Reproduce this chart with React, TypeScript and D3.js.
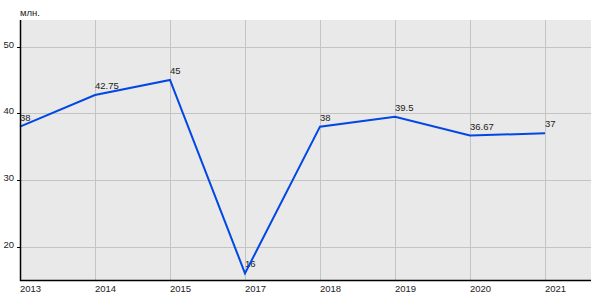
import React from "react";
import * as d3 from "d3";

const years = ["2013", "2014", "2015", "2017", "2018", "2019", "2020", "2021"];
const values = [38, 42.75, 45, 16, 38, 39.5, 36.67, 37];
const valueLabels = ["38", "42.75", "45", "16", "38", "39.5", "36.67", "37"];
const yTicks = [20, 30, 40, 50];
const unitLabel = "млн.";

export default function App() {
  const W = 600, H = 300;
  const left = 20, right = 591, top = 20, bottom = 280;
  const x = d3.scalePoint<string>().domain(years).range([left, 545]);
  const y = d3.scaleLinear().domain([15, 54]).range([bottom, top]);
  const line = d3
    .line<number>()
    .x((_, i) => x(years[i]) as number)
    .y((d) => y(d));
  const font = "Liberation Sans, Arial, sans-serif";
  const fs = 9.5;
  return (
    <svg
      width={W}
      height={H}
      style={{ position: "absolute", left: 0, top: 0, display: "block" }}
      fontFamily={font}
      fontSize={fs}
    >
      <rect x={0} y={0} width={W} height={H} fill="#ffffff" />
      <rect x={left} y={top} width={right - left} height={bottom - top} fill="#e9e9e9" />
      {yTicks.map((t) => (
        <line key={"gy" + t} x1={left} x2={right} y1={Math.round(y(t)) + 0.5} y2={Math.round(y(t)) + 0.5} stroke="#c4c4c4" strokeWidth={1} />
      ))}
      {years.map((yr) => (
        <line key={"gx" + yr} x1={Math.round(x(yr) as number) + 0.5} x2={Math.round(x(yr) as number) + 0.5} y1={top} y2={bottom} stroke="#c4c4c4" strokeWidth={1} />
      ))}
      {yTicks.map((t) => (
        <g key={"ty" + t}>
          <line x1={left - 3} x2={left} y1={Math.round(y(t)) + 0.5} y2={Math.round(y(t)) + 0.5} stroke="#000" />
          <text x={14} y={y(t)} dy="0.1em" textAnchor="end" fill="#222">{t}</text>
        </g>
      ))}
      {years.map((yr) => (
        <text key={"tx" + yr} x={x(yr) as number} y={292} textAnchor="start" fill="#222">{yr}</text>
      ))}
      <text x={20} y={16} fill="#222">{unitLabel}</text>
      {values.map((v, i) => (
        <text key={"vl" + i} x={x(years[i]) as number} y={y(v) - 6} textAnchor="start" fill="#222">{valueLabels[i]}</text>
      ))}
      <path d={line(values) || ""} fill="none" stroke="#0047e6" strokeWidth={2} />
      <line x1={left + 0.5} x2={left + 0.5} y1={top} y2={bottom + 1} stroke="#000" strokeWidth={1.5} />
      <line x1={left} x2={right} y1={bottom + 0.5} y2={bottom + 0.5} stroke="#000" strokeWidth={1.5} />
    </svg>
  );
}
